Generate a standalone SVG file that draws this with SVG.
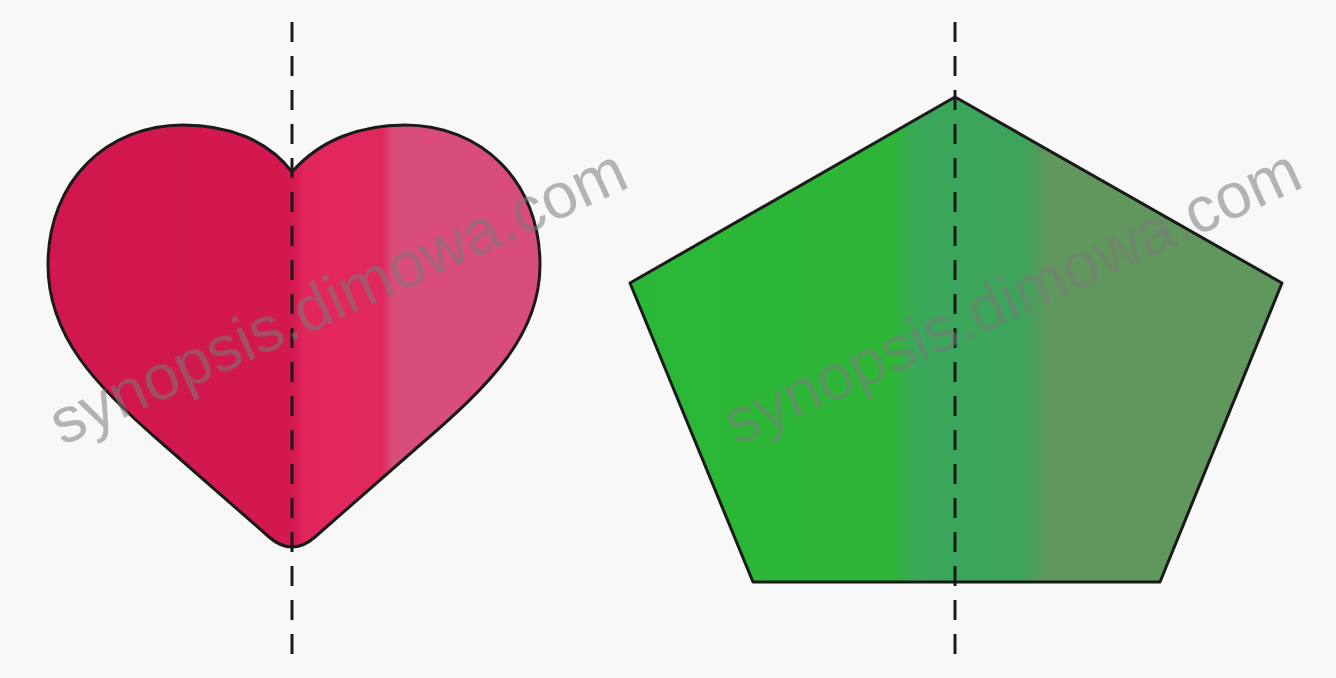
<svg xmlns="http://www.w3.org/2000/svg" width="1336" height="678" viewBox="0 0 1336 678">
<style>
.shape{stroke:#1a1a1a;stroke-width:3;stroke-linejoin:round}
.axis{stroke:#1a1a1a;stroke-width:3;stroke-dasharray:20 14;fill:none}
.wm{font-family:"Liberation Sans",Arial,sans-serif;font-size:64px;fill:#7a7a7a;fill-opacity:0.55}
</style>
<defs>
<linearGradient id="heartFill" gradientUnits="userSpaceOnUse" x1="48" y1="0" x2="540" y2="0">
<stop offset="0" stop-color="#d0174e"/>
<stop offset="0.5" stop-color="#d3194f"/>
<stop offset="0.52" stop-color="#e2265c"/>
<stop offset="0.68" stop-color="#e0285e"/>
<stop offset="0.7" stop-color="#d84d7a"/>
<stop offset="1" stop-color="#d84d7a"/>
</linearGradient>
<linearGradient id="pentFill" gradientUnits="userSpaceOnUse" x1="630" y1="0" x2="1282" y2="0">
<stop offset="0" stop-color="#2ab737"/>
<stop offset="0.4" stop-color="#2db536"/>
<stop offset="0.44" stop-color="#3aa75a"/>
<stop offset="0.6" stop-color="#3ca45a"/>
<stop offset="0.64" stop-color="#5f975c"/>
<stop offset="1" stop-color="#5f975c"/>
</linearGradient>
</defs>
<rect width="1336" height="678" fill="#f8f8f8"/>
<g id="heart">
<path class="shape" fill="url(#heartFill)" d="M292,172 C320,140 360,125 405,125 C480,125 540,180 540,265 C540,335 490,385 420,445 L315,537 Q292,557 269,537 L164,445 C94,385 48,335 48,265 C48,180 108,125 183,125 C228,125 268,140 292,172 Z"/>
</g>
<g id="pentagon">
<polygon class="shape" fill="url(#pentFill)" points="955,97 1282,283 1160,582 753,582 630,283"/>
</g>
<g id="axes">
<line class="axis" x1="292" y1="22" x2="292" y2="660"/>
<line class="axis" x1="955" y1="22" x2="955" y2="660"/>
</g>
<g id="watermark">
<text class="wm" transform="translate(62,446) rotate(-24.5)">synopsis.dimowa.com</text>
<text class="wm" transform="translate(736,446) rotate(-24.5)">synopsis.dimowa.com</text>
</g>
</svg>
